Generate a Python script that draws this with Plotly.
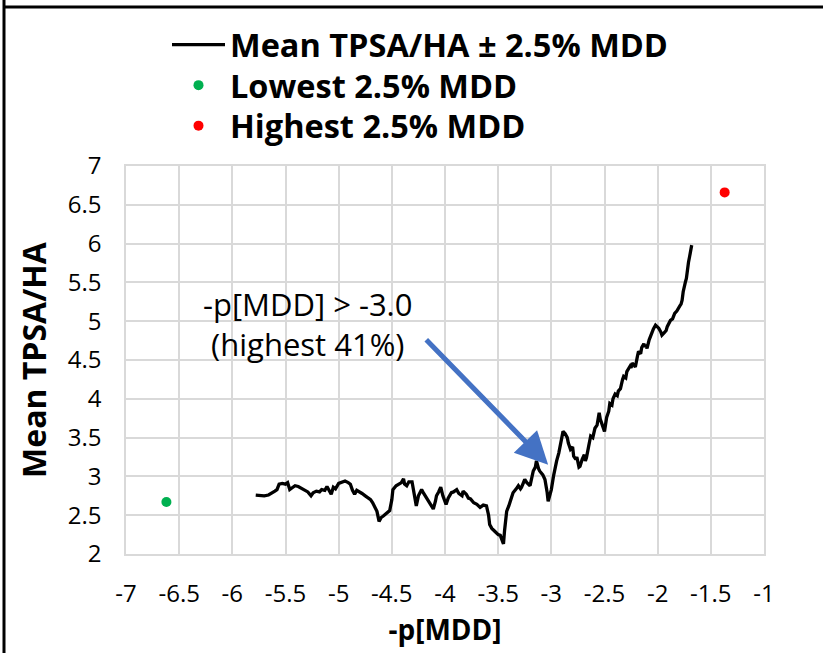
import plotly.graph_objects as go

# Running mean of TPSA/HA (window of +/- 2.5% of compounds) against -p[MDD]
mean_x = [
    -5.78, -5.74, -5.70, -5.66, -5.63, -5.60, -5.58, -5.56, -5.53, -5.50,
    -5.48, -5.46, -5.44, -5.41, -5.38, -5.35, -5.32, -5.29, -5.26, -5.24,
    -5.21, -5.18, -5.16, -5.13, -5.11, -5.09, -5.07, -5.05, -5.03, -5.00,
    -4.97, -4.94, -4.91, -4.89, -4.87, -4.85, -4.83, -4.80, -4.78, -4.75,
    -4.72, -4.70, -4.68, -4.66, -4.64, -4.62, -4.60, -4.58, -4.55, -4.52,
    -4.50, -4.49, -4.46, -4.44, -4.41, -4.39, -4.38, -4.36, -4.34, -4.31,
    -4.29, -4.27, -4.25, -4.22, -4.20, -4.17, -4.14, -4.11, -4.09, -4.08,
    -4.06, -4.04, -4.02, -3.99, -3.97, -3.94, -3.92, -3.89, -3.87, -3.84,
    -3.83, -3.80, -3.78, -3.76, -3.73, -3.70, -3.67, -3.64, -3.61, -3.59,
    -3.58, -3.56, -3.53, -3.50, -3.48, -3.46, -3.45, -3.44, -3.42, -3.40,
    -3.39, -3.37, -3.36, -3.33, -3.31, -3.29, -3.28, -3.25, -3.23, -3.20,
    -3.18, -3.17, -3.15, -3.14, -3.12, -3.11, -3.08, -3.06, -3.04, -3.03,
    -3.01, -3.00, -2.98, -2.97, -2.95, -2.93, -2.91, -2.89, -2.87, -2.85,
    -2.84, -2.82, -2.80, -2.79, -2.77, -2.76, -2.74, -2.73, -2.71, -2.69,
    -2.68, -2.67, -2.65, -2.63, -2.61, -2.60, -2.59, -2.57, -2.55, -2.54,
    -2.53, -2.51, -2.50, -2.48, -2.46, -2.45, -2.43, -2.42, -2.40, -2.38,
    -2.37, -2.35, -2.34, -2.33, -2.32, -2.30, -2.29, -2.28, -2.26, -2.25,
    -2.24, -2.22, -2.21, -2.19, -2.18, -2.16, -2.15, -2.13, -2.12, -2.11,
    -2.10, -2.08, -2.07, -2.05, -2.04, -2.02, -2.00, -1.99, -1.97, -1.96,
    -1.94, -1.92, -1.91, -1.90, -1.88, -1.86, -1.85, -1.84, -1.82, -1.81,
    -1.79, -1.78, -1.77, -1.76, -1.75, -1.74, -1.73, -1.72, -1.71, -1.70,
    -1.69, -1.68,
]
mean_tpsa_ha = [
    2.76, 2.75, 2.75, 2.76, 2.78, 2.81, 2.83, 2.90, 2.91, 2.90,
    2.92, 2.83, 2.85, 2.88, 2.87, 2.85, 2.83, 2.80, 2.75, 2.79,
    2.81, 2.80, 2.83, 2.82, 2.87, 2.82, 2.77, 2.86, 2.84, 2.91,
    2.92, 2.94, 2.92, 2.90, 2.82, 2.77, 2.82, 2.80, 2.78, 2.75,
    2.72, 2.70, 2.66, 2.61, 2.55, 2.42, 2.47, 2.49, 2.52, 2.56,
    2.70, 2.83, 2.88, 2.90, 2.92, 2.97, 2.90, 2.88, 2.93, 2.93,
    2.78, 2.62, 2.75, 2.83, 2.78, 2.71, 2.65, 2.58, 2.68, 2.75,
    2.80, 2.86, 2.75, 2.64, 2.72, 2.79, 2.80, 2.83, 2.78, 2.75,
    2.81, 2.77, 2.72, 2.71, 2.66, 2.64, 2.60, 2.63, 2.62, 2.50,
    2.38, 2.33, 2.29, 2.25, 2.24, 2.18, 2.13, 2.30, 2.55, 2.62,
    2.66, 2.72, 2.79, 2.84, 2.88, 2.84, 2.86, 2.96, 2.92, 2.88,
    3.00, 3.07, 3.12, 3.20, 3.10, 3.07, 3.02, 2.96, 2.80, 2.68,
    2.78, 2.83, 3.00, 3.09, 3.20, 3.30, 3.45, 3.58, 3.55, 3.50,
    3.43, 3.35, 3.38, 3.26, 3.22, 3.25, 3.12, 3.13, 3.22, 3.28,
    3.20, 3.24, 3.38, 3.52, 3.50, 3.58, 3.62, 3.66, 3.82, 3.74,
    3.70, 3.60, 3.58, 3.76, 3.84, 3.94, 3.92, 4.00, 4.06, 4.04,
    4.10, 4.13, 4.22, 4.25, 4.29, 4.27, 4.35, 4.37, 4.42, 4.40,
    4.46, 4.43, 4.41, 4.55, 4.61, 4.58, 4.66, 4.71, 4.67, 4.69,
    4.65, 4.76, 4.80, 4.86, 4.90, 4.95, 4.93, 4.91, 4.86, 4.82,
    4.85, 4.88, 4.93, 4.96, 5.01, 5.03, 5.06, 5.10, 5.13, 5.16,
    5.20, 5.22, 5.27, 5.38, 5.46, 5.50, 5.55, 5.70, 5.76, 5.83,
    5.90, 5.98,
]

# Means of the extreme 2.5% tails
lowest_x, lowest_y = [-6.62], [2.67]
highest_x, highest_y = [-1.37], [6.66]

x_ticks = [-7, -6.5, -6, -5.5, -5, -4.5, -4, -3.5, -3, -2.5, -2, -1.5, -1]
x_tick_text = ["-7", "-6.5", "-6", "-5.5", "-5", "-4.5", "-4", "-3.5", "-3",
               "-2.5", "-2", "-1.5", "-1"]
y_ticks = [2, 2.5, 3, 3.5, 4, 4.5, 5, 5.5, 6, 6.5, 7]
y_tick_text = ["2", "2.5", "3", "3.5", "4", "4.5", "5", "5.5", "6", "6.5", "7"]

# Callout: threshold label and the point it refers to
callout_text = "-p[MDD] > -3.0<br>(highest 41%)"
callout_pos = (-5.29, 4.97)
arrow_tail = (-4.19, 4.78)
arrow_tip = (-3.03, 3.15)

W, H = 823, 653
M_L, M_R, M_T, M_B = 126, 59, 166, 99
FONT = "Open Sans"
GRID = "#D9D9D9"


def px(xp):
    return (xp - M_L) / (W - M_L - M_R)


def py(yp):
    return (H - M_B - yp) / (H - M_T - M_B)


fig = go.Figure()
fig.add_trace(go.Scatter(
    x=mean_x, y=mean_tpsa_ha, mode="lines",
    name="<b>Mean TPSA/HA ± 2.5% MDD</b>", legend="legend",
    line=dict(color="black", width=3.3),
))
fig.add_trace(go.Scatter(
    x=lowest_x, y=lowest_y, mode="markers", name="<b>Lowest 2.5% MDD</b>",
    legend="legend2", marker=dict(color="#00B050", size=10),
))
fig.add_trace(go.Scatter(
    x=highest_x, y=highest_y, mode="markers", name="<b>Highest 2.5% MDD</b>",
    legend="legend3", marker=dict(color="#FF0000", size=10),
))

fig.add_annotation(
    x=callout_pos[0], y=callout_pos[1], text=callout_text, showarrow=False,
    font=dict(family=FONT, size=31, color="black"), align="center",
)
fig.add_annotation(
    x=arrow_tip[0], y=arrow_tip[1], ax=arrow_tail[0], ay=arrow_tail[1],
    axref="x", ayref="y", text="", showarrow=True,
    arrowcolor="#4472C4", arrowwidth=5, arrowhead=2, arrowsize=1.3,
)

# Outer frame lines of the panel
fig.add_shape(type="line", xref="paper", yref="paper",
              x0=px(4), x1=px(4), y0=py(653), y1=py(0),
              line=dict(color="black", width=3))
fig.add_shape(type="line", xref="paper", yref="paper",
              x0=px(4), x1=px(823), y0=py(7), y1=py(7),
              line=dict(color="black", width=3))

LEGEND_FONT = dict(family=FONT, size=32.5, color="black")


def legend_row(top_px):
    return dict(
        x=px(167), y=py(top_px), xanchor="left", yanchor="top",
        font=LEGEND_FONT, bgcolor="rgba(0,0,0,0)", itemwidth=53,
    )


fig.update_layout(
    width=W, height=H, autosize=False,
    margin=dict(l=M_L, r=M_R, t=M_T, b=M_B),
    paper_bgcolor="white", plot_bgcolor="white",
    font=dict(family=FONT, color="black"),
    showlegend=True,
    legend=legend_row(17),
    legend2=legend_row(57.5),
    legend3=legend_row(98),
    xaxis=dict(
        range=[-7, -1], tickvals=x_ticks, ticktext=x_tick_text,
        showgrid=True, gridcolor=GRID, gridwidth=1.5,
        showline=True, linecolor=GRID, linewidth=1.5, mirror=True,
        zeroline=False, ticks="", ticklabelstandoff=17,
        tickfont=dict(family=FONT, size=24, color="black"),
        title=dict(text="<b>-p[MDD]</b>", standoff=13,
                   font=dict(family=FONT, size=28, color="black")),
    ),
    yaxis=dict(
        range=[2, 7], tickvals=y_ticks, ticktext=y_tick_text,
        showgrid=True, gridcolor=GRID, gridwidth=1.5,
        showline=True, linecolor=GRID, linewidth=1.5, mirror=True,
        zeroline=False, ticks="", ticklabelstandoff=18,
        tickfont=dict(family=FONT, size=24, color="black"),
        title=dict(text="<b>Mean TPSA/HA</b>", standoff=12,
                   font=dict(family=FONT, size=32, color="black")),
    ),
)

fig.write_html("out.html")
